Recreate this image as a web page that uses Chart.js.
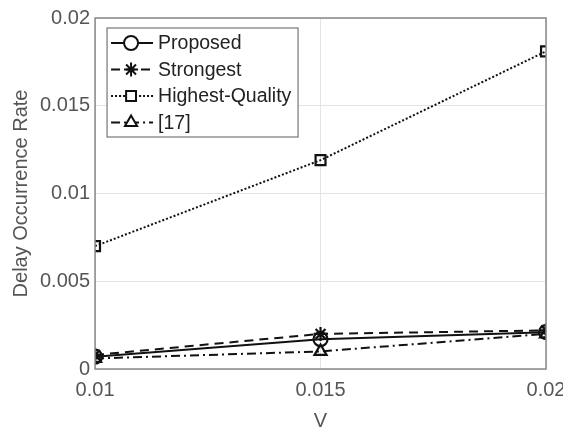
<!DOCTYPE html>
<html>
<head>
<meta charset="utf-8">
<script src="https://cdn.jsdelivr.net/npm/chart.js@4"></script>
<style>
  html, body { margin: 0; padding: 0; background: #fff; overflow: hidden; }
  #wrap { width: 600px; height: 431px; }
</style>
</head>
<body>
<div id="wrap"><canvas id="chart"></canvas></div>
<script>
// data
const vValues = [0.01, 0.015, 0.02];
const proposed = [0.0007, 0.0017, 0.0021];
const strongest = [0.0008, 0.0020, 0.0022];
const highestQuality = [0.0070, 0.0119, 0.0181];
const ref17 = [0.0006, 0.0010, 0.0020];
const yTicks = [0, 0.005, 0.01, 0.015, 0.02];
const xTicks = [0.01, 0.015, 0.02];

const FONT = '"Liberation Sans", Arial, sans-serif';
const TEXT = '#555';

function pts(arr) {
    return arr.map((y, i) => ({ x: vValues[i], y: y }));
}

const series = [
    { label: 'Proposed', data: proposed, dash: [], style: 'circle', width: 2 },
    { label: 'Strongest', data: strongest, dash: [9, 6], style: 'star', width: 2 },
    { label: 'Highest-Quality', data: highestQuality, dash: [2, 2], style: 'rect', width: 2 },
    { label: '[17]', data: ref17, dash: [9, 4, 2, 4], style: 'triangle', width: 2 }
];

// box around plot + legend with line through marker
const extras = {
    id: 'extras',
    afterDatasetsDraw(chart) {
        const ctx = chart.ctx;
        const a = chart.chartArea;
        ctx.save();
        ctx.strokeStyle = '#888';
        ctx.lineWidth = 1.5;
        ctx.strokeRect(a.left, a.top, a.right - a.left, a.bottom - a.top);

        const bx = a.left + 12, by = a.top + 10, bw = 191, bh = 109;
        ctx.fillStyle = '#fff';
        ctx.fillRect(bx, by, bw, bh);
        ctx.strokeStyle = '#777';
        ctx.lineWidth = 1.2;
        ctx.strokeRect(bx, by, bw, bh);

        series.forEach((s, i) => {
            const y = by + 15 + i * 26.5;
            ctx.strokeStyle = '#111';
            ctx.lineWidth = s.width;
            ctx.setLineDash(s.dash);
            ctx.beginPath();
            ctx.moveTo(bx + 4, y);
            ctx.lineTo(bx + 46, y);
            ctx.stroke();
            ctx.setLineDash([]);
            ctx.fillStyle = '#fff';
            Chart.helpers.drawPoint(ctx, {
                pointStyle: s.style, radius: 7, rotation: 0, borderWidth: 2
            }, bx + 24, y);
            ctx.fillStyle = '#222';
            ctx.font = '19.5px ' + FONT;
            ctx.textBaseline = 'middle';
            ctx.fillText(s.label, bx + 51, y + 1);
        });
        ctx.restore();
    }
};

new Chart(document.getElementById('chart'), {
    type: 'line',
    data: {
        datasets: series.map(s => ({
            label: s.label,
            data: pts(s.data),
            borderColor: '#111',
            backgroundColor: 'rgba(255,255,255,0)',
            borderWidth: s.width,
            borderDash: s.dash,
            pointStyle: s.style,
            pointRadius: 7,
            pointBorderWidth: 2.2,
            pointBorderColor: '#111',
            pointBackgroundColor: 'rgba(255,255,255,0)',
            tension: 0,
            fill: false
        }))
    },
    options: {
        responsive: true,
        maintainAspectRatio: false,
        animation: false,
        layout: { padding: { top: 18, right: 54, left: 5, bottom: 0 } },
        plugins: {
            legend: { display: false },
            tooltip: { enabled: false }
        },
        scales: {
            x: {
                type: 'linear',
                min: 0.01,
                max: 0.02,
                afterBuildTicks: axis => { axis.ticks = xTicks.map(v => ({ value: v })); },
                ticks: {
                    color: TEXT,
                    font: { family: FONT, size: 20 },
                    padding: 9,
                    maxRotation: 0,
                    callback: v => String(v)
                },
                grid: { color: '#e4e4e4', drawTicks: false },
                border: { display: false },
                title: {
                    display: true,
                    text: 'V',
                    color: TEXT,
                    font: { family: FONT, size: 20, lineHeight: 1 },
                    padding: { top: 0, bottom: 0 }
                }
            },
            y: {
                min: 0,
                max: 0.02,
                afterBuildTicks: axis => { axis.ticks = yTicks.map(v => ({ value: v })); },
                ticks: {
                    color: TEXT,
                    font: { family: FONT, size: 20 },
                    padding: 5,
                    callback: v => String(v)
                },
                grid: { color: '#e4e4e4', drawTicks: false },
                border: { display: false },
                title: {
                    display: true,
                    text: 'Delay Occurrence Rate',
                    color: TEXT,
                    font: { family: FONT, size: 20 },
                    padding: { bottom: 2 }
                }
            }
        }
    },
    plugins: [extras]
});
</script>
</body>
</html>
